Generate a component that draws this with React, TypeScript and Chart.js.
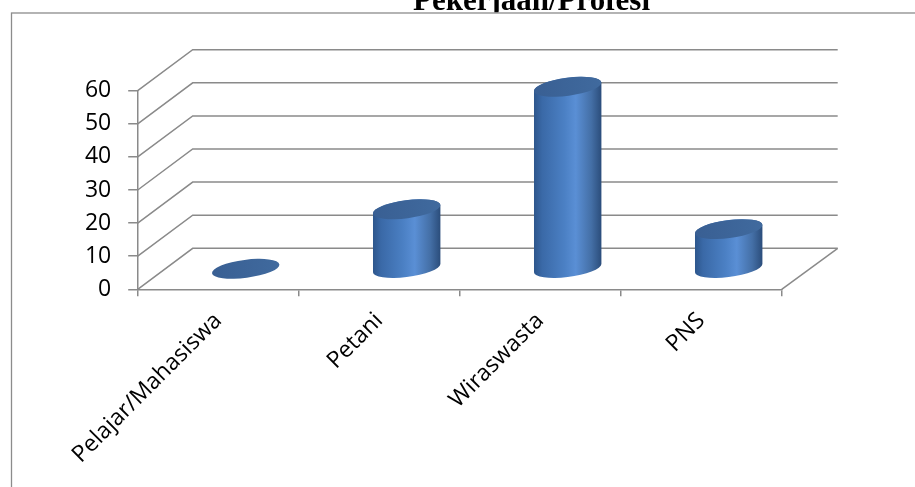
import { useEffect, useRef } from "react";
import { Chart, registerables } from "chart.js";

Chart.register(...registerables);

// Occupation breakdown
const categories = ["Pelajar/Mahasiswa", "Petani", "Wiraswasta", "PNS"];
const values = [0, 18, 55, 12];
const yTicks = [0, 10, 20, 30, 40, 50, 60];
const chartTitle = "Pekerjaan/Profesi";

// 3D look: offset of the back wall relative to the front plane (px)
const DEPTH_X = 55;
const DEPTH_Y = 41;
const GRID = "#8a8a8a";
const TICK_FONT = { family: "'Open Sans', sans-serif", size: 23 };

// cylinder cap geometry
const CAP_RY = 9;
const CAP_TILT = -0.13;

function capPoint(cx: number, cy: number, rx: number, t: number): [number, number] {
  const c = Math.cos(CAP_TILT);
  const s = Math.sin(CAP_TILT);
  return [
    cx + rx * Math.cos(t) * c - CAP_RY * Math.sin(t) * s,
    cy + rx * Math.cos(t) * s + CAP_RY * Math.sin(t) * c,
  ];
}

function drawCylinder(ctx: CanvasRenderingContext2D, cx: number, topY: number, botY: number, rx: number) {
  const tR = Math.atan2(-CAP_RY * Math.sin(CAP_TILT), rx * Math.cos(CAP_TILT));
  const tL = tR + Math.PI;
  ctx.save();
  if (botY - topY > 0.5) {
    const [lx] = capPoint(cx, topY, rx, tL);
    const [rxp] = capPoint(cx, topY, rx, tR);
    const g = ctx.createLinearGradient(lx, 0, rxp, 0);
    g.addColorStop(0, "#2d568c");
    g.addColorStop(0.12, "#3a69a7");
    g.addColorStop(0.45, "#4b80c4");
    g.addColorStop(0.62, "#5a8fd5");
    g.addColorStop(0.85, "#446fa6");
    g.addColorStop(1, "#2b4d7b");
    ctx.beginPath();
    ctx.moveTo(...capPoint(cx, topY, rx, tL));
    ctx.lineTo(...capPoint(cx, botY, rx, tL));
    ctx.ellipse(cx, botY, rx, CAP_RY, CAP_TILT, tL, tR, true);
    ctx.lineTo(...capPoint(cx, topY, rx, tR));
    ctx.ellipse(cx, topY, rx, CAP_RY, CAP_TILT, tR, tL, true);
    ctx.closePath();
    ctx.fillStyle = g;
    ctx.fill();
  }
  const tg = ctx.createLinearGradient(cx - rx, 0, cx + rx, 0);
  tg.addColorStop(0, "#395f93");
  tg.addColorStop(1, "#406a9e");
  ctx.beginPath();
  ctx.ellipse(cx, topY, rx, CAP_RY, CAP_TILT, 0, Math.PI * 2);
  ctx.fillStyle = tg;
  ctx.fill();
  ctx.restore();
}

// Title (partly above the frame) and the outer chart frame
const framePlugin = {
  id: "frame",
  beforeDraw(chart: any) {
    const ctx = chart.ctx as CanvasRenderingContext2D;
    ctx.save();
    ctx.beginPath();
    ctx.rect(0, 0, chart.width, 12.6);
    ctx.clip();
    ctx.font = 'bold 31px "Liberation Serif", "Times New Roman", serif';
    ctx.fillStyle = "#000";
    ctx.textAlign = "center";
    ctx.textBaseline = "alphabetic";
    ctx.fillText(chartTitle, 531.5, 9.8);
    ctx.restore();

    ctx.save();
    ctx.strokeStyle = "#8c8c8c";
    ctx.lineWidth = 1.3;
    ctx.strokeRect(11.5, 13, chart.width + 20, chart.height + 20);
    ctx.restore();
  },
};

// Side wall diagonals, back wall gridlines and floor edge
const wallPlugin = {
  id: "walls",
  beforeDatasetsDraw(chart: any) {
    const ctx = chart.ctx as CanvasRenderingContext2D;
    const { left, right } = chart.chartArea;
    const y = chart.scales.y;
    ctx.save();
    ctx.strokeStyle = GRID;
    ctx.lineWidth = 1.5;
    for (const v of yTicks) {
      const py = y.getPixelForValue(v);
      ctx.beginPath();
      ctx.moveTo(left, py);
      ctx.lineTo(left + DEPTH_X, py - DEPTH_Y);
      ctx.lineTo(right + DEPTH_X + 1, py - DEPTH_Y);
      ctx.stroke();
    }
    const p0 = y.getPixelForValue(yTicks[0]);
    ctx.beginPath();
    ctx.moveTo(right, p0);
    ctx.lineTo(right + DEPTH_X + 1, p0 - DEPTH_Y);
    ctx.stroke();
    ctx.restore();
  },
};

// Cylinders placed at mid-depth of each bar slot
const cylinderPlugin = {
  id: "cylinders",
  afterDatasetsDraw(chart: any) {
    const ctx = chart.ctx as CanvasRenderingContext2D;
    const meta = chart.getDatasetMeta(0);
    meta.data.forEach((bar: any) => {
      const p = bar.getProps(["x", "y", "base", "width"], true);
      const cx = p.x + DEPTH_X / 2;
      const topY = p.y - DEPTH_Y / 2;
      const botY = p.base - DEPTH_Y / 2;
      drawCylinder(ctx, cx, topY, botY, p.width / 2);
    });
  },
};

export default function App() {
  const canvasRef = useRef<HTMLCanvasElement | null>(null);

  useEffect(() => {
    const canvas = canvasRef.current;
    if (!canvas) return;
    const chart = new Chart(canvas, {
      type: "bar",
      data: {
        labels: categories,
        datasets: [
          {
            data: values,
            backgroundColor: "rgba(0,0,0,0)",
            borderWidth: 0,
            categoryPercentage: 1,
            barPercentage: 0.422,
          },
        ],
      },
      options: {
        responsive: false,
        animation: false,
        devicePixelRatio: 1,
        layout: { padding: { top: 90.7, right: 133.3, left: 0, bottom: 0 } },
        plugins: {
          legend: { display: false },
          title: { display: false },
          tooltip: { enabled: false },
        },
        scales: {
          x: {
            grid: {
              offset: true,
              drawOnChartArea: false,
              drawTicks: true,
              tickLength: 7,
              color: GRID,
              lineWidth: 1.5,
            },
            border: { display: true, color: GRID, width: 1.5 },
            ticks: {
              autoSkip: false,
              minRotation: 45,
              maxRotation: 45,
              padding: 11,
              color: "#000",
              font: TICK_FONT,
            },
            afterFit(s: any) {
              s.height = 197.7;
            },
          },
          y: {
            min: yTicks[0],
            max: yTicks[yTicks.length - 1],
            ticks: {
              stepSize: yTicks[1] - yTicks[0],
              padding: 17,
              color: "#000",
              font: TICK_FONT,
            },
            grid: {
              drawOnChartArea: false,
              tickLength: 9.5,
              color: GRID,
              lineWidth: 1.5,
            },
            border: { display: true, color: GRID, width: 1.5 },
            afterFit(s: any) {
              s.width = 137.7;
            },
          },
        },
      } as any,
      plugins: [framePlugin, wallPlugin, cylinderPlugin],
    });
    return () => chart.destroy();
  }, []);

  return (
    <div style={{ position: "fixed", left: 0, top: 0, width: 915, height: 487, background: "#fff" }}>
      <canvas ref={canvasRef} width={915} height={487} style={{ display: "block" }} />
    </div>
  );
}
